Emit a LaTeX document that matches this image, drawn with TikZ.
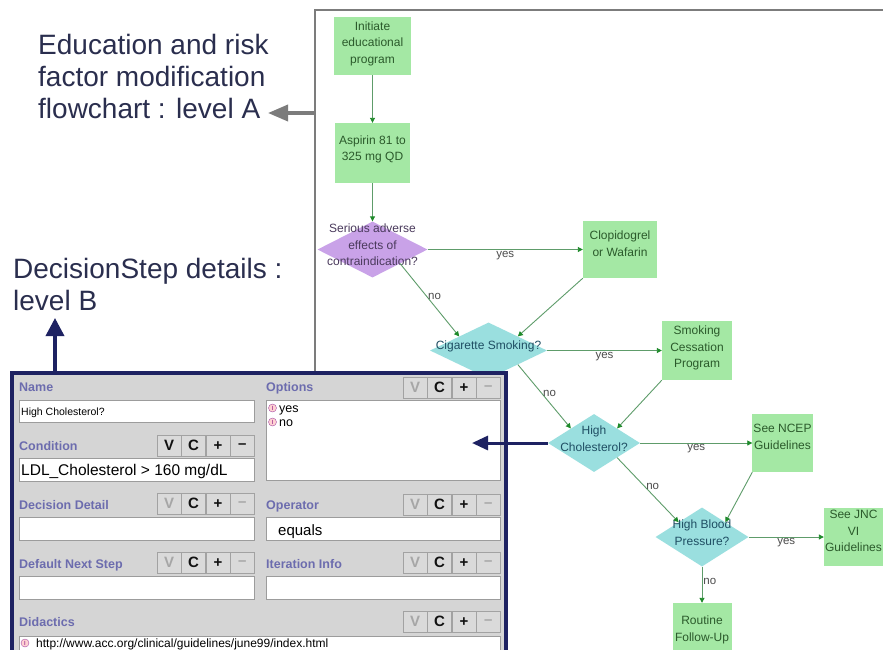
\documentclass[tikz,border=0pt]{standalone}
\usepackage{fontspec}
\setmainfont{Liberation Sans}
\usepackage{tikz}
\usetikzlibrary{arrows.meta,positioning,shapes.geometric}
\definecolor{boxgreen}{HTML}{A4E8A4}
\definecolor{boxink}{HTML}{2B5A2B}
\definecolor{diacyan}{HTML}{9ADFDF}
\definecolor{diaink}{HTML}{1F4E63}
\definecolor{dialilac}{HTML}{C9A2E8}
\definecolor{lilacink}{HTML}{4A3A5C}
\definecolor{flowline}{HTML}{5E9C6A}
\definecolor{flowtip}{HTML}{1E8A2A}
\definecolor{framegray}{HTML}{7C7C7C}
\definecolor{navy}{HTML}{1E2262}
\definecolor{titleink}{HTML}{2A2E4E}
\definecolor{panelbg}{HTML}{D5D5D5}
\definecolor{fieldline}{HTML}{9C9C9C}
\definecolor{labelblue}{HTML}{6C6CAE}
\definecolor{btnfill}{HTML}{DADADA}
\definecolor{btnline}{HTML}{A2A2A2}
\definecolor{btnon}{HTML}{111111}
\definecolor{btnoff}{HTML}{A6A6A6}
\tikzset{
  stepbox/.style={rectangle, fill=boxgreen, text=boxink, align=center, inner sep=1pt,
    minimum width=59, minimum height=58, font=\fontsize{12}{16.5}\selectfont},
  choice/.style={diamond, inner sep=0pt},
  choicetext/.style={align=center, inner sep=0pt, yshift=4.5pt, font=\fontsize{12}{16.5}\selectfont},
  flow/.style={draw=flowline, line width=0.9pt, -{Triangle[length=5pt,width=5pt,color=flowtip]}},
  answer/.style={font=\fontsize{11.5}{12}\selectfont, text=black!70, inner sep=1pt},
  title/.style={anchor=north west, align=left, inner sep=0pt, text=titleink,
    font=\fontsize{28}{32}\selectfont},
  bigarrow/.style={line width=3.5pt, -{Triangle[length=18pt,width=18pt]}},
  field/.style={rectangle, draw=fieldline, fill=white, line width=0.8pt, anchor=north west,
    inner sep=0pt},
  fieldlabel/.style={anchor=base west, inner sep=0pt, text=labelblue,
    font=\bfseries\fontsize{12.5}{13}\selectfont},
  fieldtext/.style={anchor=base west, inner sep=0pt, font=\fontsize{10.5}{12}\selectfont},
  bigtext/.style={anchor=base west, inner sep=0pt, font=\fontsize{15.5}{16}\selectfont},
  ctrlbtn/.style={rectangle, draw=btnline, fill=btnfill, anchor=north west, inner sep=0pt,
    minimum width=24, minimum height=21, font=\bfseries\fontsize{15}{15}\selectfont},
  opticon/.style={circle, fill=pink!70, draw=violet!70, minimum size=8, inner sep=0pt,
    text=violet, font=\fontsize{6}{6}\selectfont}
}
\newcommand{\ctrlbtns}[5]{%
  \foreach \glyph/\ink [count=\k from 0] in {V/#4,C/btnon,+/btnon,--/#5}
    \node[ctrlbtn, text=\ink] (#1-\k) at ({#2+24.4*\k},#3) {\glyph};
}
\begin{document}
\begin{tikzpicture}[x=1pt,y=-1pt]
  \useasboundingbox (0,0) rectangle (883,649);
  \fill[white] (0,0) rectangle (883,649);
  \clip (0,0) rectangle (883,649);

  % level A : flowchart
  \draw[framegray, line width=2.3pt] (315,372) -- (315,10) -- (883,10);
  \coordinate (framejoin) at (315,113);

  \node[stepbox, minimum width=77] (init) at (372.5,46) {Initiate\\educational\\program\\[-9.5pt]};
  \node[stepbox, minimum width=75, minimum height=60] (aspirin) at (372.5,153) {Aspirin 81 to\\325 mg QD\\[-6.5pt]};
  \node[choice, fill=dialilac, minimum width=110, minimum height=56] (adverse) at (372.5,249.5) {};
  \node[choicetext, text=lilacink] (adverse-t) at (adverse) {Serious adverse\\effects of\\contraindication?};
  \node[stepbox, minimum width=74, minimum height=57] (clopid) at (620,249.5) {Clopidogrel\\or Wafarin\\[-4.5pt]};
  \node[choice, fill=diacyan, minimum width=117, minimum height=56] (smoking) at (488.5,350.5) {};
  \node[choicetext, text=diaink] (smoking-t) at (smoking) {Cigarette Smoking?};
  \node[stepbox, minimum width=70, minimum height=59] (cessation) at (697,350.5) {Smoking\\Cessation\\Program\\[-9.5pt]};
  \node[choice, fill=diacyan, minimum width=92, minimum height=58] (chol) at (594,443) {};
  \node[choicetext, text=diaink] (chol-t) at (chol) {High\\Cholesterol?};
  \node[stepbox] (ncep) at (782.5,443) {See NCEP\\Guidelines\\[-4.5pt]};
  \node[choice, fill=diacyan, minimum width=93, minimum height=59] (bp) at (702,537) {};
  \node[choicetext, text=diaink] (bp-t) at (bp) {High Blood\\Pressure?};
  \node[stepbox] (jnc) at (853.5,537) {See JNC\\VI\\Guidelines\\[-4.5pt]};
  \node[stepbox] (routine) at (702,632) {Routine\\Follow-Up\\[-9.5pt]};

  \draw[flow] (init) -- (aspirin);
  \draw[flow] (aspirin) -- (adverse);
  \draw[flow] (adverse) -- node[answer, anchor=north] (adverse-yes) {yes} (clopid);
  \draw[flow] (adverse.south east) -- node[answer, anchor=west, pos=0.45] (adverse-no) {no} (smoking.north west);
  \draw[flow] (clopid.south west) -- (smoking.north east);
  \draw[flow] (smoking) -- node[answer, anchor=north] (smoking-yes) {yes} (cessation);
  \draw[flow] (smoking.south east) -- node[answer, anchor=west, pos=0.45] (smoking-no) {no} (chol.north west);
  \draw[flow] (cessation.south west) -- (chol.north east);
  \draw[flow] (chol) -- node[answer, anchor=north] (chol-yes) {yes} (ncep);
  \draw[flow] (chol.south east) -- node[answer, anchor=west, pos=0.45] (chol-no) {no} (bp.north west);
  \draw[flow] (ncep.south west) -- (bp.north east);
  \draw[flow] (bp) -- node[answer, anchor=north] (bp-yes) {yes} (jnc);
  \draw[flow] (bp) -- node[answer, anchor=west, pos=0.4] (bp-no) {no} (routine);

  % titles
  \node[title] (levela) at (38,34.5) {Education and risk\\factor modification\\flowchart : level A};
  \node[title] (levelb) at (13,258) {DecisionStep details :\\level B};
  \coordinate (levelatip) at (268,113);
  \coordinate (levelbtip) at (55,318);

  % level B : decision step panel
  \fill[panelbg] (11.5,372.5) rectangle (505.5,665);

  \node[fieldlabel] (namelab) at (19,391.5) {Name};
  \node[field, minimum width=235, minimum height=22] (namebox) at (19,400) {};
  \node[fieldtext] (nametxt) at (21,415) {High Cholesterol?};

  \node[fieldlabel] (condlab) at (19,450) {Condition};
  \ctrlbtns{condbtn}{157}{435}{btnon}{btnon}
  \node[field, minimum width=235, minimum height=23] (condbox) at (19,458) {};
  \node[bigtext] (condtxt) at (21,475) {LDL\_Cholesterol > 160 mg/dL};

  \node[fieldlabel] (detlab) at (19,509) {Decision Detail};
  \ctrlbtns{detbtn}{157}{493}{btnoff}{btnoff}
  \node[field, minimum width=235, minimum height=23] (detbox) at (19,517) {};

  \node[fieldlabel] (nextlab) at (19,568) {Default Next Step};
  \ctrlbtns{nextbtn}{157}{552}{btnoff}{btnoff}
  \node[field, minimum width=235, minimum height=23] (nextbox) at (19,576) {};

  \node[fieldlabel] (optlab) at (266,391.5) {Options};
  \ctrlbtns{optbtn}{403}{377}{btnoff}{btnoff}
  \node[field, minimum width=234, minimum height=80] (optbox) at (266,400) {};
  \node[opticon] (yesicon) at (272.5,408) {I};
  \node[fieldtext, font=\fontsize{12.5}{13}\selectfont] (yesopt) at (279,412.5) {yes};
  \node[opticon] (noicon) at (272.5,422) {I};
  \node[fieldtext, font=\fontsize{12.5}{13}\selectfont] (noopt) at (279,426.5) {no};

  \node[fieldlabel] (oplab) at (266,509) {Operator};
  \ctrlbtns{opbtn}{403}{494}{btnoff}{btnoff}
  \node[field, minimum width=234, minimum height=23] (opbox) at (266,517) {};
  \node[bigtext, font=\fontsize{15}{16}\selectfont] (optxt) at (278,535) {equals};

  \node[fieldlabel] (iterlab) at (266,568) {Iteration Info};
  \ctrlbtns{iterbtn}{403}{552}{btnoff}{btnoff}
  \node[field, minimum width=234, minimum height=23] (iterbox) at (266,576) {};

  \node[fieldlabel] (didlab) at (19,626.5) {Didactics};
  \ctrlbtns{didbtn}{403}{611}{btnoff}{btnoff}
  \node[field, minimum width=481, minimum height=30] (didbox) at (19,636) {};
  \node[opticon] (urlicon) at (25,643) {I};
  \node[fieldtext, font=\fontsize{12}{13}\selectfont] (urltxt) at (36,647.5) {http://www.acc.org/clinical/guidelines/june99/index.html};

  \draw[navy, line width=4pt] (11.5,665) -- (11.5,372.5) -- (505.5,372.5) -- (505.5,665);
  \coordinate (panelport) at (55,372.5);
  \coordinate (optarrowtip) at (472,443);

  % links between the two levels
  \draw[bigarrow, framegray, -{Triangle[length=20pt,width=16pt]}] (framejoin) -- (levelatip);
  \draw[bigarrow, navy] (panelport) -- (levelbtip);
  \draw[bigarrow, navy, line width=3pt, -{Triangle[length=16pt,width=14pt]}] (chol.west) -- (optarrowtip);
\end{tikzpicture}
\end{document}
